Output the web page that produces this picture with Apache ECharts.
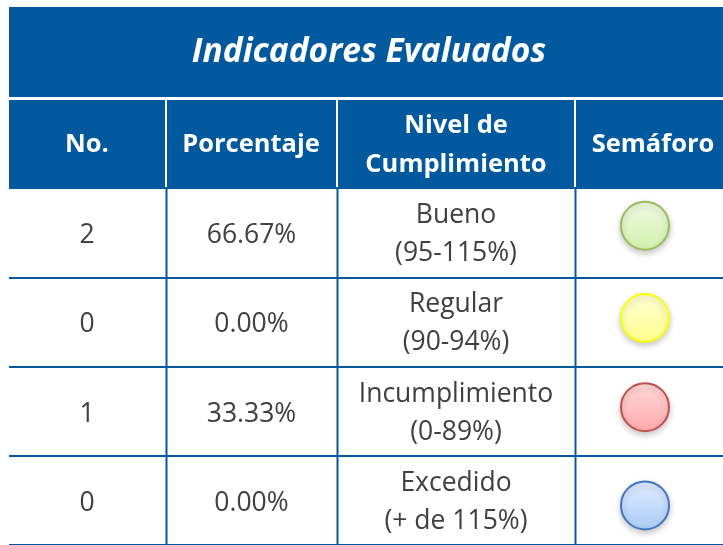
<!DOCTYPE html>
<html><head><meta charset="utf-8">
<script src="https://cdn.jsdelivr.net/npm/echarts@6/dist/echarts.min.js"></script>
<style>html,body{margin:0;padding:0;background:#fff}#c{width:723px;height:545px}</style>
</head><body><div id="c"></div>
<script>
// ---- data ----
const titleText = 'Indicadores Evaluados';
const headers = ['No.', 'Porcentaje', 'Nivel de\nCumplimiento', 'Semáforo'];
const rowIds = ['r1', 'r2', 'r3', 'r4'];
const counts = [2, 0, 1, 0];
const percentages = ['66.67%', '0.00%', '33.33%', '0.00%'];
const levels = ['Bueno', 'Regular', 'Incumplimiento', 'Excedido'];
const ranges = ['(95-115%)', '(90-94%)', '(0-89%)', '(+ de 115%)'];
const lightFill = ['#f0fbe4', '#ffffd6', '#ffd9d9', '#e0eeff'];
const darkFill = ['#d0f0aa', '#ffff8c', '#ffa9a9', '#aacbf5'];
const borderColors = ['#9bbb59', '#ffff00', '#c0504d', '#4472c4'];

// ---- layout ----
const BLUE = '#02599d';
const TEXT = '#404040';
const FONT = '"Open Sans", "Noto Sans", sans-serif';
const LEFT = 9;
const colEdges = [0, 157, 328, 566, 714]; // x-axis units (px from LEFT)
const textCenters = [78, 242.5, 447, 644];
const circleX = 636;
const circleOffsetY = [-7, -4, -4, 5];

const chart = echarts.init(document.getElementById('c'), null, {renderer: 'canvas'});

function renderRow(params, api) {
  const i = params.dataIndex;
  const r = api.value(1);
  const c = api.coord([0, r]);
  const h = api.size([0, 1])[1];
  const top = c[1] - h / 2, bottom = c[1] + h / 2;
  const children = [];
  for (let k = 1; k < colEdges.length - 1; k++) {
    const x = Math.round(api.coord([colEdges[k], r])[0]) + 0.5;
    children.push({type: 'line', shape: {x1: x, y1: top, x2: x, y2: bottom},
      style: {stroke: BLUE, lineWidth: 2}});
  }
  const cells = [String(counts[i]), percentages[i], levels[i] + '\n' + ranges[i]];
  cells.forEach((t, k) => {
    const x = api.coord([textCenters[k], r])[0];
    children.push({type: 'text', style: {text: t, x: x, y: c[1] + (k < 2 ? 3 : 2), align: 'center', verticalAlign: 'middle',
      fill: TEXT, fontSize: 26.5, fontFamily: FONT, lineHeight: 38}});
  });
  return {type: 'group', children: children};
}

const headerCells = [];
const hx = [9, 167, 338, 576, 723];
for (let k = 0; k < 4; k++) {
  headerCells.push({type: 'rect', shape: {x: hx[k], y: 100, width: hx[k + 1] - hx[k] - (k < 3 ? 2 : 0), height: 88}, style: {fill: BLUE}});
}
const headerTextX = [87, 251, 456, 653];
headers.forEach((t, k) => {
  headerCells.push({type: 'text', style: {text: t, x: headerTextX[k], y: 145, align: 'center', verticalAlign: 'middle',
    fill: '#fff', fontSize: 25.5, fontWeight: 'bold', fontFamily: FONT, lineHeight: 39}});
});

chart.setOption({
  animation: false,
  graphic: [
    {type: 'rect', shape: {x: 9, y: 7, width: 714, height: 90}, style: {fill: BLUE}},
    {type: 'text', style: {text: titleText, x: 369, y: 52, align: 'center', verticalAlign: 'middle',
      fill: '#fff', fontSize: 33.5, fontWeight: 'bold', fontStyle: 'italic', fontFamily: FONT}},
    ...headerCells
  ],
  grid: {left: LEFT, top: 188, width: 714, height: 358},
  xAxis: {type: 'value', min: 0, max: 714, show: false},
  yAxis: {type: 'category', data: rowIds, inverse: true, boundaryGap: true,
    axisLine: {show: false}, axisTick: {show: false}, axisLabel: {show: false},
    splitLine: {show: true, lineStyle: {color: BLUE, width: 2}}},
  series: [
    {type: 'custom', renderItem: renderRow, data: rowIds.map((id, i) => [0, i]), z: 2},
    {type: 'scatter', symbol: 'circle', symbolSize: 48, z: 3,
      data: rowIds.map((id, i) => ({
        value: [circleX, i],
        symbolOffset: [0, circleOffsetY[i]],
        itemStyle: {
          color: new echarts.graphic.LinearGradient(0, 0, 0, 1, [{offset: 0, color: lightFill[i]}, {offset: 1, color: darkFill[i]}]),
          borderColor: borderColors[i], borderWidth: 2,
          shadowBlur: 6, shadowOffsetY: 3, shadowColor: 'rgba(0,0,0,0.22)', opacity: 1
        }
      }))}
  ]
});
</script></body></html>
